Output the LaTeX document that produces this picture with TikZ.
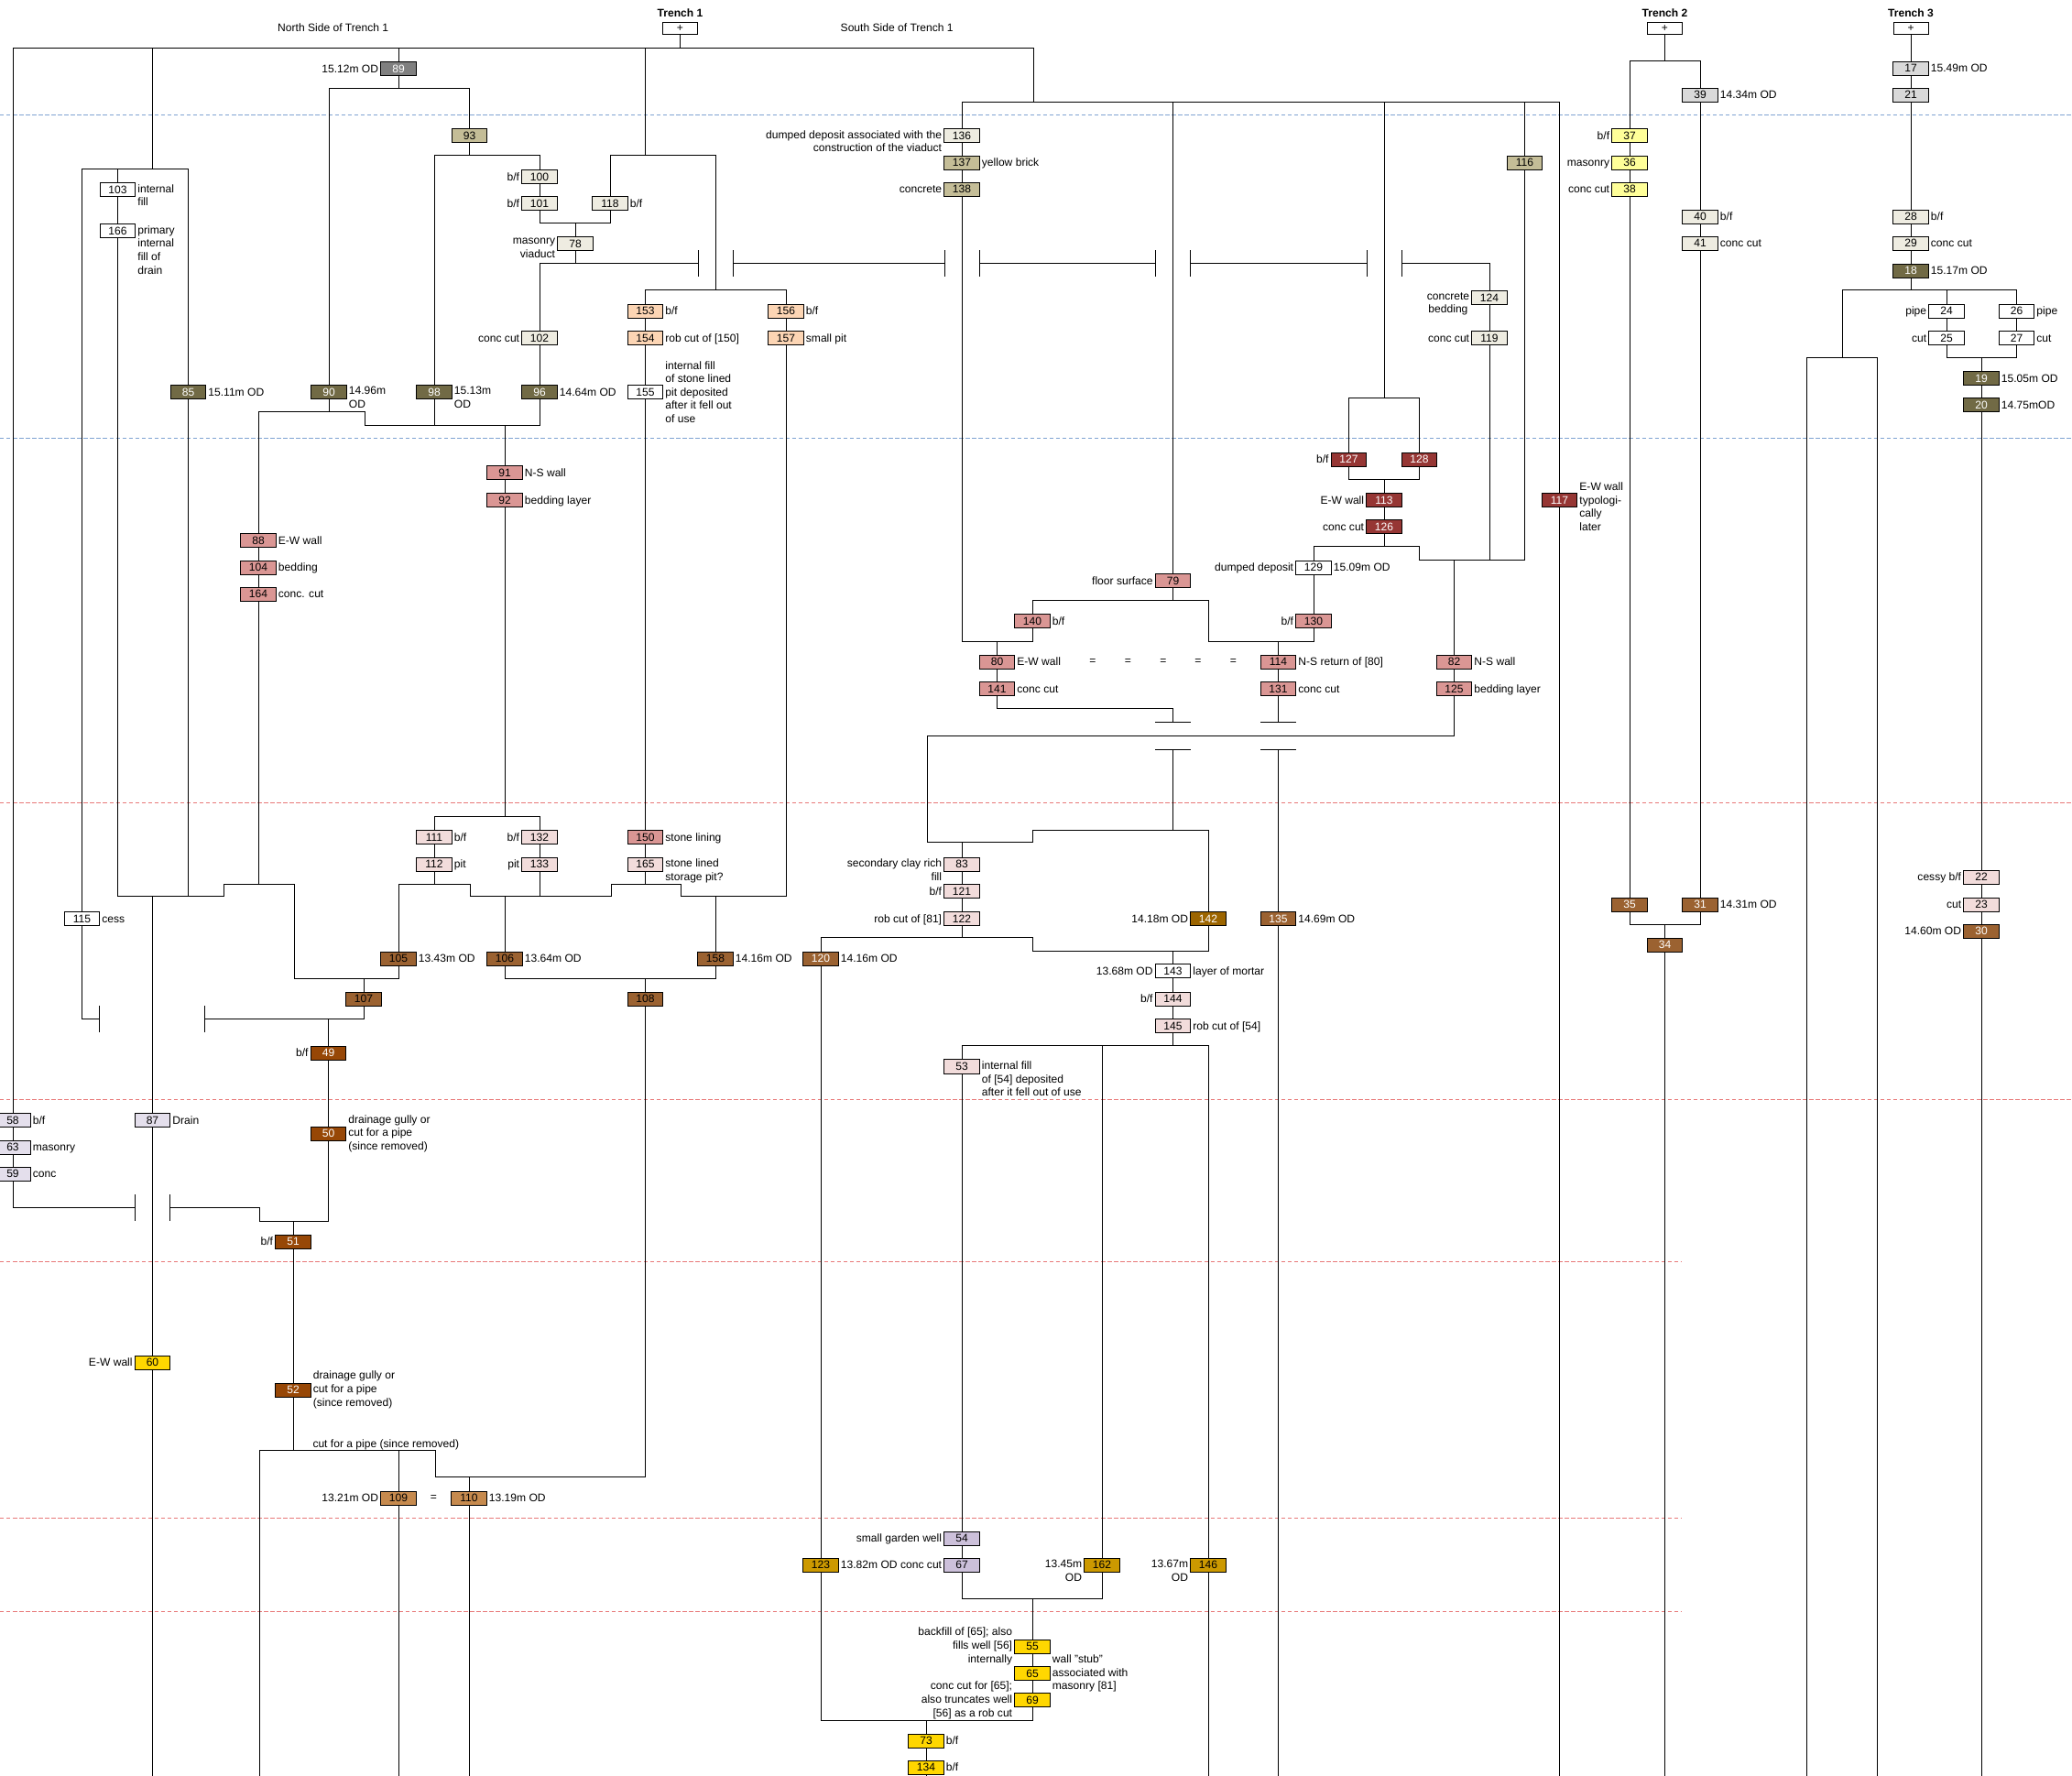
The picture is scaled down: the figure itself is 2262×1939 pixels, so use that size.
\documentclass[tikz,border=0pt]{standalone}
\usepackage{fontspec}
\setmainfont{Liberation Sans}
\usepackage{tikz}
\usetikzlibrary{positioning}

\definecolor{ctxgray}{HTML}{808080}
\definecolor{ctxtan}{HTML}{C4BD97}
\definecolor{ctxbeige}{HTML}{EEECE1}
\definecolor{ctxolive}{HTML}{716A45}
\definecolor{ctxlgray}{HTML}{D9D9D9}
\definecolor{ctxyellow}{HTML}{FFFF99}
\definecolor{ctxpeach}{HTML}{FCD5B4}
\definecolor{ctxpink}{HTML}{DA9694}
\definecolor{ctxred}{HTML}{963634}
\definecolor{ctxblush}{HTML}{F2DCDB}
\definecolor{ctxbrown}{HTML}{9B6231}
\definecolor{ctxamber}{HTML}{9C6500}
\definecolor{ctxrust}{HTML}{974706}
\definecolor{ctxlilac}{HTML}{E4DFEC}
\definecolor{ctxmauve}{HTML}{CCC0DA}
\definecolor{ctxgold}{HTML}{FFD700}
\definecolor{ctxtaupe}{HTML}{C68A4E}
\definecolor{ctxochre}{HTML}{CC9900}
\definecolor{phaseblue}{HTML}{7FA2D2}
\definecolor{phasered}{HTML}{E87878}

\newcommand{\ctxfont}{\fontsize{10.3}{12.5}\selectfont}
\newcommand{\ctx}[3]{\node[ctx, fill=#1] (c#2) at (#3) {#2};}
\newcommand{\ctxw}[3]{\node[ctx, fill=#1, text=white] (c#2) at (#3) {#2};}
\newcommand{\labR}[2]{\node[labr] (r#1) at (c#1.east) {#2};}
\newcommand{\labL}[2]{\node[labl] (l#1) at (c#1.west) {#2};}
\newcommand{\labRM}[2]{\node[labrm] (r#1) at (c#1.east) {#2};}
\newcommand{\labLM}[2]{\node[lablm] (l#1) at (c#1.west) {#2};}
\newcommand{\labRT}[2]{\node[labrt] (r#1) at ([yshift=6.7pt]c#1.east) {#2};}
\newcommand{\labLT}[2]{\node[lablt] (l#1) at ([yshift=6.7pt]c#1.west) {#2};}
\newcommand{\hop}[2]{\draw (#1,#2-14.3) -- (#1,#2+14.3);}
\newcommand{\vhop}[2]{\draw (#1-19.5,#2) -- (#1+19.5,#2);}

\tikzset{
  ctx/.style={draw, line width=0.7pt, minimum width=1.155cm, minimum height=0.45cm,
    inner sep=0pt, font=\ctxfont, text height=7.1pt, text depth=0pt},
  lab/.style={font=\ctxfont, inner sep=1.5pt},
  labr/.style={lab, anchor=west, text height=7.1pt, text depth=0pt},
  labl/.style={lab, anchor=east, text height=7.1pt, text depth=0pt},
  labrm/.style={lab, anchor=west, align=left},
  lablm/.style={lab, anchor=east, align=right},
  labrt/.style={lab, anchor=north west, align=left, execute at begin node=\strut},
  lablt/.style={lab, anchor=north east, align=right, execute at begin node=\strut},
  trench/.style={draw, line width=0.7pt, minimum width=1.14cm, minimum height=0.39cm,
    inner sep=0pt, font=\ctxfont},
  phase/.style={line width=0.6pt, dash pattern=on 3.8pt off 2.2pt}
}

\begin{document}
\begin{tikzpicture}[x=0.03cm, y=-0.03cm, line width=0.85pt]
\fill[white] (0,0) rectangle (2262,1939);
\useasboundingbox (0,0) rectangle (2262,1939);

% phase lines
\draw[phase, phaseblue] (0,125.4) -- (2262,125.4);
\draw[phase, phaseblue] (0,478.5) -- (2262,478.5);
\draw[phase, phasered] (0,876.5) -- (2262,876.5);
\draw[phase, phasered] (0,1200.2) -- (2262,1200.2);
\foreach \y in {1377.1,1657.1,1759.6}
  \draw[phase, phasered] (0,\y) -- (1835,\y);

% headings
\node[trench] (t1) at (742.5,30.7) {+};
\node[font=\ctxfont\bfseries, inner sep=1pt, above=0.1cm of t1] (t1name) {Trench 1};
\node[trench] (t2) at (1817.5,30.7) {+};
\node[font=\ctxfont\bfseries, inner sep=1pt, above=0.1cm of t2] (t2name) {Trench 2};
\node[trench] (t3) at (2086,30.7) {+};
\node[font=\ctxfont\bfseries, inner sep=1pt, above=0.1cm of t3] (t3name) {Trench 3};
\node[lab] (northside) at (363.7,30.3) {North Side of Trench 1};
\node[lab] (southside) at (979.2,30.3) {South Side of Trench 1};

% Trench 1, north side
\ctxw{ctxgray}{89}{435,75} \labL{89}{15.12m OD}
\ctx{ctxtan}{93}{512.5,148}
\ctx{ctxbeige}{100}{589,193} \labL{100}{b/f}
\ctx{ctxbeige}{101}{589,222} \labL{101}{b/f}
\ctx{ctxbeige}{118}{666,222} \labR{118}{b/f}
\ctx{ctxbeige}{78}{628,266} \labLT{78}{masonry\\viaduct}
\ctx{ctxbeige}{102}{589,369} \labL{102}{conc cut}
\ctxw{ctxolive}{96}{589,428} \labR{96}{14.64m OD}
\ctx{white}{103}{128.5,207} \labRT{103}{internal\\fill}
\ctx{white}{166}{128.5,252} \labRT{166}{primary\\internal\\fill of\\drain}
\ctxw{ctxolive}{85}{205.5,428} \labR{85}{15.11m OD}
\ctxw{ctxolive}{90}{359,428} \labRT{90}{14.96m\\OD}
\ctxw{ctxolive}{98}{474,428} \labRT{98}{15.13m\\OD}
\ctx{ctxpink}{91}{551,516} \labR{91}{N-S wall}
\ctx{ctxpink}{92}{551,546} \labR{92}{bedding layer}
\ctx{ctxpink}{88}{282,590} \labR{88}{E-W wall}
\ctx{ctxpink}{104}{282,619.5} \labR{104}{bedding}
\ctx{ctxpink}{164}{282,648.5} \labR{164}{conc. cut}
\ctx{ctxpeach}{153}{704.5,339.5} \labR{153}{b/f}
\ctx{ctxpeach}{154}{704.5,369} \labR{154}{rob cut of [150]}
\ctx{white}{155}{704.5,428} \labRM{155}{internal fill\\of stone lined\\pit deposited\\after it fell out\\of use}
\ctx{ctxpeach}{156}{858,339.5} \labR{156}{b/f}
\ctx{ctxpeach}{157}{858,369} \labR{157}{small pit}
\ctx{ctxblush}{111}{474,914} \labR{111}{b/f}
\ctx{ctxblush}{112}{474,943.5} \labR{112}{pit}
\ctx{ctxblush}{132}{589,914} \labL{132}{b/f}
\ctx{ctxblush}{133}{589,943.5} \labL{133}{pit}
\ctx{ctxpink}{150}{704.5,914} \labR{150}{stone lining}
\ctx{ctxblush}{165}{704.5,943.5} \labRT{165}{stone lined\\storage pit?}
\ctx{white}{115}{89.5,1003} \labR{115}{cess}
\ctx{ctxbrown}{105}{435,1046.6} \labR{105}{13.43m OD}
\ctx{ctxbrown}{106}{551,1046.6} \labR{106}{13.64m OD}
\ctx{ctxbrown}{158}{781,1046.6} \labR{158}{14.16m OD}
\ctx{ctxbrown}{107}{397,1090.8}
\ctx{ctxbrown}{108}{704.5,1090.8}
\ctxw{ctxrust}{49}{358.5,1149.7} \labL{49}{b/f}
\ctx{ctxlilac}{58}{14,1223} \labR{58}{b/f}
\ctx{ctxlilac}{63}{14,1252.4} \labR{63}{masonry}
\ctx{ctxlilac}{59}{14,1281.8} \labR{59}{conc}
\ctx{ctxlilac}{87}{166.5,1223} \labR{87}{Drain}
\ctxw{ctxrust}{50}{358.5,1237.6} \labRM{50}{drainage gully or\\cut for a pipe\\(since removed)}
\ctxw{ctxrust}{51}{320,1355.7} \labL{51}{b/f}
\ctx{ctxgold}{60}{166.5,1487.6} \labL{60}{E-W wall}
\ctxw{ctxrust}{52}{320,1517.5} \labRM{52}{drainage gully or\\cut for a pipe\\(since removed)}
\node[font=\ctxfont, inner sep=0pt, anchor=base west] (pipecut) at (341,1580.5) {cut for a pipe (since removed)};
\ctx{ctxtaupe}{109}{435,1635.6} \labL{109}{13.21m OD}
\ctx{ctxtaupe}{110}{512,1635.6} \labR{110}{13.19m OD}
\node[lab] (eq6) at (473.5,1635.6) {=};

% Trench 1, south side
\ctx{ctxbeige}{136}{1050,148} \labLT{136}{dumped deposit associated with the\\construction of the viaduct}
\ctx{ctxtan}{137}{1050,177.5} \labR{137}{yellow brick}
\ctx{ctxtan}{138}{1050,206.5} \labL{138}{concrete}
\ctx{ctxtan}{116}{1664.5,177.5}
\ctx{ctxbeige}{124}{1626,325}
\node[lablt, align=center] (l124) at ([yshift=6.7pt]c124.west) {concrete\\bedding};
\ctx{ctxbeige}{119}{1626,369} \labL{119}{conc cut}
\ctxw{ctxred}{127}{1472.5,501.7} \labL{127}{b/f}
\ctxw{ctxred}{128}{1549.5,501.7}
\ctxw{ctxred}{113}{1511,546} \labL{113}{E-W wall}
\ctxw{ctxred}{126}{1511,575.3} \labL{126}{conc cut}
\ctx{white}{129}{1434,619.5} \labL{129}{dumped deposit} \labR{129}{15.09m OD}
\ctx{ctxpink}{79}{1280.5,634} \labL{79}{floor surface}
\ctxw{ctxred}{117}{1702.5,546}
\node[labrm] (r117) at ([yshift=-6.25pt]c117.east) {E-W wall\\typologi-\\cally\\later};
\ctx{ctxpink}{140}{1127,678.3} \labR{140}{b/f}
\ctx{ctxpink}{130}{1434,678.3} \labL{130}{b/f}
\ctx{ctxpink}{80}{1088.5,722.5} \labR{80}{E-W wall}
\ctx{ctxpink}{141}{1088.5,752} \labR{141}{conc cut}
\ctx{ctxpink}{114}{1395.5,722.5} \labR{114}{N-S return of [80]}
\ctx{ctxpink}{131}{1395.5,752} \labR{131}{conc cut}
\ctx{ctxpink}{82}{1587.5,722.5} \labR{82}{N-S wall}
\ctx{ctxpink}{125}{1587.5,752} \labR{125}{bedding layer}
\foreach \x [count=\i] in {1193,1231.5,1270,1308,1346.5}
  \node[lab] (eq\i) at (\x,722.5) {=};
\ctx{ctxblush}{83}{1050,943.5} \labLT{83}{secondary clay rich\\fill}
\ctx{ctxblush}{121}{1050,973} \labL{121}{b/f}
\ctx{ctxblush}{122}{1050,1003} \labL{122}{rob cut of [81]}
\ctxw{ctxbrown}{120}{896,1046.6} \labR{120}{14.16m OD}
\ctxw{ctxamber}{142}{1319,1003} \labL{142}{14.18m OD}
\ctxw{ctxbrown}{135}{1395.5,1003} \labR{135}{14.69m OD}
\ctx{white}{143}{1280.5,1060.4} \labL{143}{13.68m OD} \labR{143}{layer of mortar}
\ctx{ctxblush}{144}{1280.5,1090.8} \labL{144}{b/f}
\ctx{ctxblush}{145}{1280.5,1120} \labR{145}{rob cut of [54]}
\ctx{ctxblush}{53}{1050,1164.4} \labRT{53}{internal fill\\of [54] deposited\\after it fell out of use}
\ctx{ctxmauve}{54}{1050,1679.7} \labL{54}{small garden well}
\ctx{ctxmauve}{67}{1050,1708.7} \labL{67}{conc cut}
\ctx{ctxochre}{123}{896,1708.7} \labR{123}{13.82m OD}
\ctx{ctxochre}{162}{1203,1708.7} \labLT{162}{13.45m\\OD}
\ctx{ctxochre}{146}{1319,1708.7} \labLT{146}{13.67m\\OD}
\ctx{ctxgold}{55}{1127,1797.4} \labLM{55}{backfill of [65]; also\\fills well [56]\\internally}
\ctx{ctxgold}{65}{1127,1827} \labRM{65}{wall "stub"\\associated with\\masonry [81]}
\ctx{ctxgold}{69}{1127,1856.3} \labLM{69}{conc cut for [65];\\also truncates well\\{}[56] as a rob cut}
\ctx{ctxgold}{73}{1011,1900.8} \labR{73}{b/f}
\ctx{ctxgold}{134}{1011,1929.8} \labR{134}{b/f}

% Trench 2
\ctx{ctxlgray}{39}{1856,103.5} \labR{39}{14.34m OD}
\ctx{ctxyellow}{37}{1779,148} \labL{37}{b/f}
\ctx{ctxyellow}{36}{1779,177.5} \labL{36}{masonry}
\ctx{ctxyellow}{38}{1779,206.5} \labL{38}{conc cut}
\ctx{ctxbeige}{40}{1856,236.5} \labR{40}{b/f}
\ctx{ctxbeige}{41}{1856,265.6} \labR{41}{conc cut}
\ctxw{ctxbrown}{35}{1779,987.6}
\ctxw{ctxbrown}{31}{1856,987.6} \labR{31}{14.31m OD}
\ctxw{ctxbrown}{34}{1817.5,1031.8}

% Trench 3
\ctx{ctxlgray}{17}{2086,74.5} \labR{17}{15.49m OD}
\ctx{ctxlgray}{21}{2086,103.5}
\ctx{ctxbeige}{28}{2086,236.5} \labR{28}{b/f}
\ctx{ctxbeige}{29}{2086,265.6} \labR{29}{conc cut}
\ctxw{ctxolive}{18}{2086,295.5} \labR{18}{15.17m OD}
\ctx{white}{24}{2125,339.6} \labL{24}{pipe}
\ctx{white}{25}{2125,369.1} \labL{25}{cut}
\ctx{white}{26}{2201.5,339.6} \labR{26}{pipe}
\ctx{white}{27}{2201.5,369.1} \labR{27}{cut}
\ctxw{ctxolive}{19}{2163,413.3} \labR{19}{15.05m OD}
\ctxw{ctxolive}{20}{2163,442.3} \labR{20}{14.75mOD}
\ctx{ctxblush}{22}{2163,957.8} \labL{22}{cessy b/f}
\ctx{ctxblush}{23}{2163,987.6} \labL{23}{cut}
\ctxw{ctxbrown}{30}{2163,1016.7} \labL{30}{14.60m OD}

% connectors, trench 1 top
\draw (t1.south) -- (t1 |- 0,52.6);
\draw (c58.north) |- (1128,52.6) -- (1128,111.5);
\draw (c87 |- 0,52.6) -- (c87 |- 0,184);
\draw (c115.north) |- (c85 |- 0,184) -- (c85.north);
\draw (c103.north) -- (c103 |- 0,184);
\draw (c89.north) -- (c89 |- 0,52.6);
\draw (c153 |- 0,52.6) -- (c153 |- 0,169.6);
\draw (c118.north) |- (c158 |- 0,169.6) -- (c158 |- 0,316.9);
\draw (c153.north) |- (c156 |- 0,316.9) -- (c156.north);
\draw (c136.north) |- (c117 |- 0,111.5) -- (c117.north);
\draw (c79 |- 0,111.5) -- (c79.north);
\draw (c113 |- 0,111.5) -- (c113 |- 0,434.8);
\draw (c116 |- 0,111.5) -- (c116.north);

% north side
\draw (c89.south) -- (c89 |- 0,96.4);
\draw (c90.north) |- (c93 |- 0,96.4) -- (c93.north);
\draw (c93.south) -- (c93 |- 0,169.6);
\draw (c98.north) |- (c100 |- 0,169.6) -- (c100.north);
\draw (c100.south) -- (c101.north);
\draw (c101.south) |- (c118 |- 0,243.3) -- (c118.south);
\draw (c78.north) -- (c78 |- 0,243.3);
\draw (c78.south) -- (c78 |- 0,287.5);
\draw (c102.north) |- (762,287.5);
\draw (800,287.5) -- (1031,287.5);
\draw (1069,287.5) -- (1261.5,287.5);
\draw (1299.5,287.5) -- (1492,287.5);
\draw (1530,287.5) -| (c124.north);
\foreach \x in {762,800,1031,1069,1261.5,1299.5,1492,1530}
  \hop{\x}{287.5}
\draw (c102.south) -- (c96.north);
\draw (c103.south) -- (c166.north);
\draw (c166.south) |- (244.5,978.8) |- (321.9,965.3) -- (321.9,1068.4) -| (c105.south);
\draw (c85.south) -- (c85 |- 0,978.8);
\draw (c87.north) -- (c87 |- 0,978.8);
\draw (c164.south) -- (c164 |- 0,965.3);
\draw (c107.north) -- (c107 |- 0,1068.4);
\draw (c90.south) |- (398.4,449.5) |- (c96 |- 0,464.2) -- (c96.south);
\draw (c88.north) |- (398.4,449.5);
\draw (c98.south) -- (c98 |- 0,464.2);
\draw (c91.north) -- (c91 |- 0,464.2);
\draw (c88.south) -- (c104.north) (c104.south) -- (c164.north);
\draw (c91.south) -- (c92.north);
\draw (c92.south) -- (c92 |- 0,891.3);
\draw (c111.north) |- (c132 |- 0,891.3) -- (c132.north);
\draw (c111.south) -- (c112.north) (c132.south) -- (c133.north);
\draw (c153.south) -- (c154.north) (c154.south) -- (c155.north)
      (c155.south) -- (c150.north) (c150.south) -- (c165.north);
\draw (c156.south) -- (c157.north);
\draw (c105.north) |- (513.5,965.3) |- (667.3,978.8) |- (743.5,965.3) |- (c157 |- 0,978.8) -- (c157.south);
\draw (c112.south) -- (c112 |- 0,965.3);
\draw (c133.south) -- (c133 |- 0,978.8);
\draw (c165.south) -- (c165 |- 0,965.3);
\draw (c106.north) -- (c106 |- 0,978.8);
\draw (c158.north) -- (c158 |- 0,978.8);
\draw (c106.south) |- (c158 |- 0,1068.4) -- (c158.south);
\draw (c108.north) -- (c108 |- 0,1068.4);
\draw (c107.south) |- (223.5,1112.2);
\draw (c49.north) -- (c49 |- 0,1112.2);
\draw (c115.south) |- (108.4,1112.2);
\hop{108.4}{1112.2} \hop{223.5}{1112.2}
\draw (c49.south) -- (c50.north);
\draw (c50.south) |- (283.4,1333.4) |- (185.3,1318.3);
\draw (c51.north) -- (c51 |- 0,1333.4);
\draw (c58.south) -- (c63.north) (c63.south) -- (c59.north);
\draw (c59.south) |- (147.2,1318.3);
\hop{147.2}{1318.3} \hop{185.3}{1318.3}
\draw (c87.south) -- (c60.north);
\draw (c60.south) -- (c60 |- 0,1939);
\draw (c51.south) -- (c52.north);
\draw (c52.south) -- (c52 |- 0,1583.5);
\draw (283.4,1939) |- (475.4,1583.5) |- (c108 |- 0,1612.1) -- (c108.south);
\draw (c109.north) -- (c109 |- 0,1583.5);
\draw (c110.north) -- (c110 |- 0,1612.1);
\draw (c109.south) -- (c109 |- 0,1939);
\draw (c110.south) -- (c110 |- 0,1939);

% south side
\draw (c136.south) -- (c137.north) (c137.south) -- (c138.north);
\draw (c138.south) |- (c140 |- 0,700.2) -- (c140.south);
\draw (c80.north) -- (c80 |- 0,700.2);
\draw (c140.north) |- (c142 |- 0,655.3) |- (c130 |- 0,700.2) -- (c130.south);
\draw (c79.south) -- (c79 |- 0,655.3);
\draw (c114.north) -- (c114 |- 0,700.2);
\draw (c129.south) -- (c130.north);
\draw (c129.north) |- (c128 |- 0,596.4) |- (c116 |- 0,611.1) -- (c116.south);
\draw (c126.south) -- (c126 |- 0,596.4);
\draw (c119.south) -- (c119 |- 0,611.1);
\draw (c82.north) -- (c82 |- 0,611.1);
\draw (c124.south) -- (c119.north);
\draw (c127.north) |- (c128 |- 0,434.8) -- (c128.north);
\draw (c127.south) |- (c128 |- 0,523.1) -- (c128.south);
\draw (c113.north) -- (c113 |- 0,523.1);
\draw (c113.south) -- (c126.north);
\draw (c80.south) -- (c141.north);
\draw (c141.south) |- (c79 |- 0,773) -- (c79 |- 0,788.1);
\vhop{1280.5}{788.1} \vhop{1280.5}{818.5}
\draw (c79 |- 0,818.5) -- (c79 |- 0,906);
\draw (c114.south) -- (c131.north);
\draw (c131.south) -- (c131 |- 0,788.1);
\vhop{1395.5}{788.1} \vhop{1395.5}{818.5}
\draw (c131 |- 0,818.5) -- (c135.north);
\draw (c82.south) -- (c125.north);
\draw (c125.south) |- (1012.1,803.3) |- (c140 |- 0,919.9) |- (c142 |- 0,906) -- (c142.north);
\draw (c83.north) -- (c83 |- 0,919.9);
\draw (c83.south) -- (c121.north) (c121.south) -- (c122.north);
\draw (c120.north) |- (c140 |- 0,1023.4) |- (c142 |- 0,1038.1) -- (c142.south);
\draw (c122.south) -- (c122 |- 0,1023.4);
\draw (c143.north) -- (c143 |- 0,1038.1);
\draw (c143.south) -- (c144.north) (c144.south) -- (c145.north);
\draw (c145.south) -- (c145 |- 0,1141.3);
\draw (c53.north) |- (c146 |- 0,1141.3) -- (c146.north);
\draw (c162.north) -- (c162 |- 0,1141.3);
\draw (c53.south) -- (c54.north) (c54.south) -- (c67.north);
\draw (c67.south) |- (c162 |- 0,1745.3) -- (c162.south);
\draw (c55.north) -- (c55 |- 0,1745.3);
\draw (c55.south) -- (c65.north) (c65.south) -- (c69.north);
\draw (c120.south) -- (c123.north);
\draw (c123.south) |- (c69 |- 0,1878.2) -- (c69.south);
\draw (c73.north) -- (c73 |- 0,1878.2);
\draw (c73.south) -- (c134.north);
\draw (c134.south) -- (c134 |- 0,1939);
\draw (c146.south) -- (c146 |- 0,1939);
\draw (c135.south) -- (c135 |- 0,1939);
\draw (c117.south) -- (c117 |- 0,1939);

% trench 2
\draw (t2.south) -- (t2 |- 0,66.1);
\draw (c37.north) |- (c39 |- 0,66.1) -- (c39.north);
\draw (c37.south) -- (c36.north) (c36.south) -- (c38.north) (c38.south) -- (c35.north);
\draw (c39.south) -- (c40.north) (c40.south) -- (c41.north) (c41.south) -- (c31.north);
\draw (c35.south) |- (c31 |- 0,1009.1) -- (c31.south);
\draw (c34.north) -- (c34 |- 0,1009.1);
\draw (c34.south) -- (c34 |- 0,1939);

% trench 3
\draw (t3.south) -- (c17.north) (c17.south) -- (c21.north) (c21.south) -- (c28.north)
      (c28.south) -- (c29.north) (c29.south) -- (c18.north);
\draw (c18.south) -- (c18 |- 0,316.9);
\draw (2011.1,390.6) |- (c26 |- 0,316.9) -- (c26.north);
\draw (c24.north) -- (c24 |- 0,316.9);
\draw (1972.5,1939) |- (2049.3,390.6) -- (2049.3,1939);
\draw (c24.south) -- (c25.north) (c26.south) -- (c27.north);
\draw (c25.south) |- (c27 |- 0,390.6) -- (c27.south);
\draw (c19.north) -- (c19 |- 0,390.6);
\draw (c19.south) -- (c20.north) (c20.south) -- (c22.north) (c22.south) -- (c23.north)
      (c23.south) -- (c30.north);
\draw (c30.south) -- (c30 |- 0,1939);

\end{tikzpicture}
\end{document}
